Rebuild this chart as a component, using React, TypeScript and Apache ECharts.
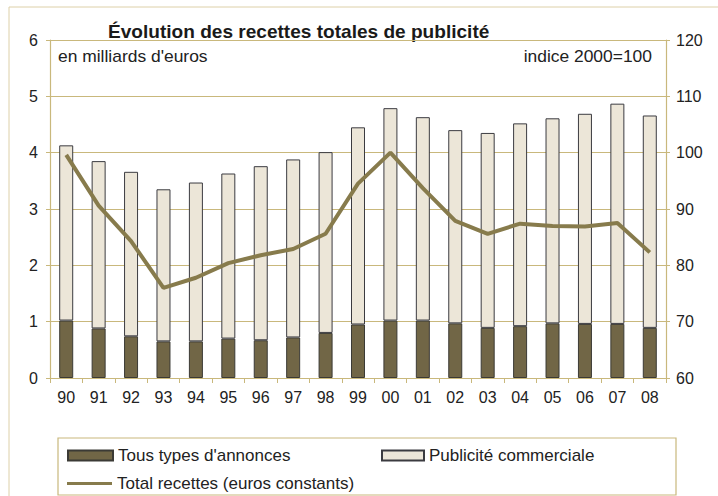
import React, { useEffect, useRef } from "react";
import * as echarts from "echarts";

const years = ["90","91","92","93","94","95","96","97","98","99","00","01","02","03","04","05","06","07","08"];
const annonces = [1.02,0.88,0.74,0.65,0.65,0.70,0.67,0.72,0.80,0.95,1.02,1.02,0.97,0.89,0.92,0.97,0.96,0.96,0.89];
const commerciale = [3.11,2.97,2.92,2.70,2.82,2.93,3.09,3.16,3.21,3.50,3.77,3.61,3.43,3.46,3.60,3.64,3.73,3.91,3.77];
const totalConstants = [99.6,90.6,84.3,76.0,77.8,80.4,81.8,82.9,85.6,94.5,100,93.7,87.9,85.6,87.4,87.0,86.9,87.5,82.3];

const FONT = "Liberation Sans, Arial, sans-serif";
const TAN = "#c9b87c";
const DARK = "#716646";
const LIGHT = "#ece6d8";
const LINE = "#877b4c";

export default function App() {
  const ref = useRef<HTMLDivElement>(null);
  useEffect(() => {
    const chart = echarts.init(ref.current!, null, { renderer: "svg" });
    const legendText = { fontSize: 17, color: "#222", fontFamily: FONT };
    chart.setOption({
      animation: false,
      backgroundColor: "#ffffff",
      textStyle: { fontFamily: FONT },
      grid: { left: 50, right: 52, top: 40, bottom: 118 },
      graphic: [
        { type: "rect", silent: true, shape: { x: 9, y: 7, width: 720, height: 500 }, style: { fill: "none", stroke: "#ddd0a8", lineWidth: 1 } },
        { type: "rect", silent: true, shape: { x: 58, y: 438, width: 618, height: 57 }, style: { fill: "none", stroke: TAN, lineWidth: 1.2 } },
        { type: "text", x: 108, y: 32, scaleX: 1.06, style: { text: "Évolution des recettes totales de publicité", font: "bold 18px " + FONT, fill: "#1a1a1a", textVerticalAlign: "middle" } },
        { type: "text", x: 58, y: 57, scaleX: 1.09, style: { text: "en milliards d'euros", font: "16px " + FONT, fill: "#222", textVerticalAlign: "middle" } },
        { type: "text", x: 652, y: 57, scaleX: 1.09, style: { text: "indice 2000=100", font: "16px " + FONT, fill: "#222", textAlign: "right", textVerticalAlign: "middle" } },
      ],
      legend: [
        { left: 62, top: 442, itemWidth: 45, itemHeight: 10, icon: "rect", textStyle: legendText, data: ["Tous types d'annonces"] },
        { left: 376, top: 442, itemWidth: 42, itemHeight: 10, icon: "rect", textStyle: legendText, data: ["Publicité commerciale"] },
        { left: 62, top: 470, itemWidth: 45, itemHeight: 3, icon: "rect", textStyle: legendText, data: ["Total recettes (euros constants)"] },
      ],
      xAxis: {
        type: "category",
        data: years,
        boundaryGap: true,
        axisLine: { show: true, lineStyle: { color: TAN, width: 1.2 } },
        axisTick: { show: true, interval: 0, length: 5, lineStyle: { color: TAN } },
        axisLabel: { interval: 0, fontSize: 16, color: "#222", margin: 11, fontFamily: FONT },
      },
      yAxis: [
        {
          type: "value", min: 0, max: 6, interval: 1, position: "left",
          axisLine: { show: true, lineStyle: { color: TAN, width: 1.2 } },
          axisTick: { show: true, length: 4, lineStyle: { color: TAN } },
          axisLabel: { fontSize: 16, color: "#222", margin: 12, fontFamily: FONT },
          splitLine: { show: true, lineStyle: { color: TAN, width: 1.2 } },
        },
        {
          type: "value", min: 60, max: 120, interval: 10, position: "right",
          axisLine: { show: true, lineStyle: { color: TAN, width: 1.2 } },
          axisTick: { show: true, length: 4, lineStyle: { color: TAN } },
          axisLabel: { fontSize: 16, color: "#222", margin: 10, fontFamily: FONT },
          splitLine: { show: false },
        },
      ],
      series: [
        {
          name: "Tous types d'annonces", type: "bar", stack: "t", barWidth: 14, data: annonces,
          itemStyle: { color: DARK, borderColor: "#3b3a35", borderWidth: 1 },
        },
        {
          name: "Publicité commerciale", type: "bar", stack: "t", barWidth: 14, data: commerciale,
          itemStyle: { color: LIGHT, borderColor: "#3b3b40", borderWidth: 1 },
        },
        {
          name: "Total recettes (euros constants)", type: "line", yAxisIndex: 1, data: totalConstants,
          symbol: "none", lineStyle: { color: LINE, width: 4 }, itemStyle: { color: LINE }, z: 5,
        },
      ],
    });
    return () => chart.dispose();
  }, []);
  return <div ref={ref} style={{ width: 718, height: 496, position: "absolute", left: 0, top: 0 }} />;
}
